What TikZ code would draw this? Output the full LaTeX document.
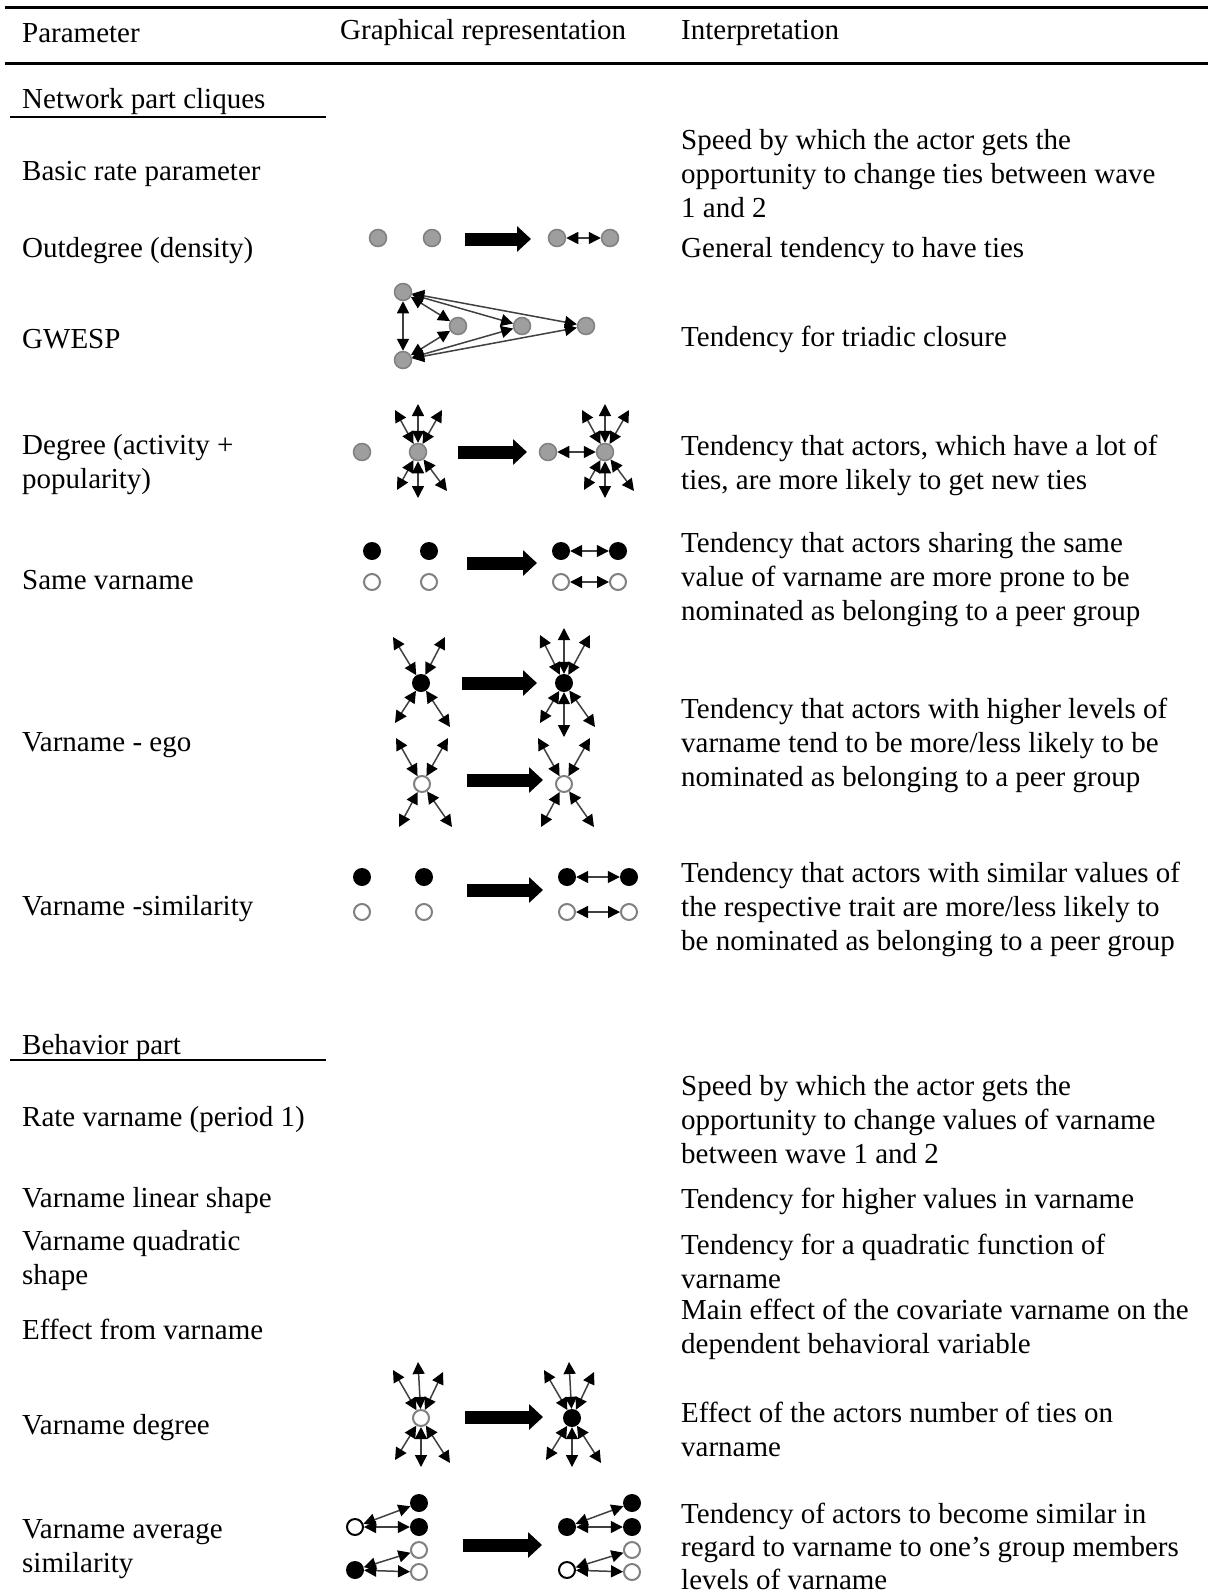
\documentclass[tikz,border=0pt]{standalone}
\usepackage{fontspec}
\setmainfont{Liberation Serif}
\usetikzlibrary{positioning,arrows.meta,calc}

\tikzset{
    txt/.style={anchor=west, align=left, inner sep=0pt, font=\fontsize{29}{34}\selectfont},
    rule/.style={line width=3pt},
    subrule/.style={line width=1.8pt},
    actor/.style={circle, inner sep=0pt, minimum size=17pt},
    grey_node/.style={actor, fill=black!38, draw=black!50, line width=1.5pt},
    black_node/.style={actor, fill=black, minimum size=18pt},
    white_node/.style={actor, fill=white, draw=black!50, line width=2pt, minimum size=16pt},
    ring_node/.style={actor, fill=white, draw=black, line width=2pt, minimum size=16pt},
    tie/.style={{Triangle[length=12pt,width=12pt,color=black]}-{Triangle[length=12pt,width=12pt,color=black]},
        draw=black!75, line width=1.5pt},
    bigarrow/.style={-{Triangle[length=14pt,width=25pt]}, line width=13pt}
}

% big change arrow between two named coordinates
\newcommand{\bigarrowat}[4]{%
    \coordinate (#1-s) at (#2,#4);
    \coordinate (#1-e) at (#3,#4);
    \draw[bigarrow] (#1-s) -- (#1-e);
}

\begin{document}
\begin{tikzpicture}[x=1pt, y=-1pt]
    \useasboundingbox (0,0) rectangle (1208,1596);

    % --- HEADER ---
    \draw[rule] (5,7) -- (1208,7);
    \node[txt] (h-par) at (22,33) {Parameter};
    \node[txt] (h-gra) at (340,33) {Graphical representation};
    \node[txt] (h-int) at (681,33) {Interpretation};
    \draw[rule] (5,63) -- (1208,63);

    % --- PARAMETER COLUMN ---
    \node[txt] (p-net) at (22,102) {Network part cliques};
    \draw[subrule] (10,117) -- (326,117);
    \node[txt] (p-rate) at (22,174) {Basic rate parameter};
    \node[txt] (p-out) at (22,251) {Outdegree (density)};
    \node[txt] (p-gwesp) at (22,339) {GWESP};
    \node[txt] (p-deg) at (22,465) {Degree (activity +\\popularity)};
    \node[txt] (p-same) at (22,580) {Same varname};
    \node[txt] (p-ego) at (22,745) {Varname - ego};
    \node[txt] (p-sim) at (22,909) {Varname -similarity};
    \node[txt] (p-beh) at (22,1048) {Behavior part};
    \draw[subrule] (10,1060) -- (326,1060);
    \node[txt] (p-brate) at (22,1120) {Rate varname (period 1)};
    \node[txt] (p-lin) at (22,1201) {Varname linear shape};
    \node[txt] (p-quad) at (22,1261) {Varname quadratic\\shape};
    \node[txt] (p-eff) at (22,1329) {Effect from varname};
    \node[txt] (p-vdeg) at (22,1428) {Varname degree};
    \node[txt] (p-avs) at (22,1549) {Varname average\\similarity};

    % --- INTERPRETATION COLUMN ---
    \node[txt] (i-rate) at (681,174) {Speed by which the actor gets the\\opportunity to change ties between wave\\1 and 2};
    \node[txt] (i-out) at (681,251) {General tendency to have ties};
    \node[txt] (i-gwesp) at (681,339) {Tendency for triadic closure};
    \node[txt] (i-deg) at (681,465) {Tendency that actors, which have a lot of\\ties, are more likely to get new ties};
    \node[txt] (i-same) at (681,580) {Tendency that actors sharing the same\\value of varname are more prone to be\\nominated as belonging to a peer group};
    \node[txt] (i-ego) at (681,745) {Tendency that actors with higher levels of\\varname tend to be more/less likely to be\\nominated as belonging to a peer group};
    \node[txt] (i-sim) at (681,909) {Tendency that actors with similar values of\\the respective trait are more/less likely to\\be nominated as belonging to a peer group};
    \node[txt] (i-brate) at (681,1120) {Speed by which the actor gets the\\opportunity to change values of varname\\between wave 1 and 2};
    \node[txt] (i-lin) at (681,1201) {Tendency for higher values in varname};
    \node[txt] (i-quad) at (681,1261) {Tendency for a quadratic function of\\varname};
    \node[txt] (i-eff) at (681,1329) {Main effect of the covariate varname on the\\dependent behavioral variable};
    \node[txt] (i-vdeg) at (681,1429) {Effect of the actors number of ties on\\varname};
    \node[txt, font=\fontsize{29}{33}\selectfont] (i-avs) at (681,1546) {Tendency of actors to become similar in\\regard to varname to one's group members\\levels of varname};

    % --- OUTDEGREE ---
    \node[grey_node] (od1) at (378,238) {};
    \node[grey_node] (od2) at (432,238) {};
    \bigarrowat{od}{465}{531}{239}
    \node[grey_node] (od3) at (557,238) {};
    \node[grey_node] (od4) at (610,238) {};
    \draw[tie] (od3) -- (od4);

    % --- GWESP ---
    \node[grey_node] (gw-t) at (403,292) {};
    \node[grey_node] (gw-b) at (403,360) {};
    \node[grey_node] (gw-1) at (458,326) {};
    \node[grey_node] (gw-2) at (522,326) {};
    \node[grey_node] (gw-3) at (586,326) {};
    \draw[tie] (gw-t) -- (gw-b);
    \foreach \m in {1,2,3} {
        \draw[tie] (gw-t) -- (gw-\m);
        \draw[tie] (gw-b) -- (gw-\m);
    }

    % --- DEGREE ---
    \node[grey_node] (dg1) at (362,452) {};
    \node[grey_node] (dg2) at (418,452) {};
    \bigarrowat{dg}{458}{527}{452}
    \node[grey_node] (dg3) at (548,452) {};
    \node[grey_node] (dg4) at (605,452) {};
    \draw[tie] (dg3) -- (dg4);
    \foreach \c in {dg2,dg4} {
        \foreach \dx/\dy in {-23/-42, 0/-48, 24/-42, -21/38, 0/46, 29/39}
            \draw[tie] (\c) -- ++(\dx,\dy);
    }

    % --- SAME VARNAME ---
    \node[black_node] (sv1) at (372,551) {};
    \node[black_node] (sv2) at (429,551) {};
    \node[white_node] (sv3) at (372,582) {};
    \node[white_node] (sv4) at (429,582) {};
    \bigarrowat{sv}{467}{537}{563}
    \node[black_node] (sv5) at (561,551) {};
    \node[black_node] (sv6) at (618,551) {};
    \node[white_node] (sv7) at (561,582) {};
    \node[white_node] (sv8) at (618,582) {};
    \draw[tie] (sv5) -- (sv6);
    \draw[tie] (sv7) -- (sv8);

    % --- VARNAME - EGO ---
    \node[black_node] (eg1) at (421,683) {};
    \node[white_node] (eg2) at (422,784) {};
    \node[black_node] (eg3) at (564,683) {};
    \node[white_node] (eg4) at (564,784) {};
    \bigarrowat{egA}{462}{537}{683}
    \bigarrowat{egB}{467}{543}{780}
    \foreach \dx/\dy in {-28/-46, 24/-46, -26/40, 29/44}
        \draw[tie] (eg1) -- ++(\dx,\dy);
    \foreach \dx/\dy in {-24/-48, 0/-55, 26/-48, -24/40, 0/54, 31/44}
        \draw[tie] (eg3) -- ++(\dx,\dy);
    \foreach \c in {eg2,eg4} {
        \foreach \dx/\dy in {-26/-46, 26/-46, -23/43, 30/43}
            \draw[tie] (\c) -- ++(\dx,\dy);
    }

    % --- VARNAME -SIMILARITY ---
    \node[black_node] (vs1) at (362,877) {};
    \node[black_node] (vs2) at (424,877) {};
    \node[white_node] (vs3) at (362,912) {};
    \node[white_node] (vs4) at (424,912) {};
    \bigarrowat{vs}{467}{543}{890}
    \node[black_node] (vs5) at (567,877) {};
    \node[black_node] (vs6) at (629,877) {};
    \node[white_node] (vs7) at (567,912) {};
    \node[white_node] (vs8) at (629,912) {};
    \draw[tie] (vs5) -- (vs6);
    \draw[tie] (vs7) -- (vs8);

    % --- VARNAME DEGREE ---
    \node[white_node] (vd1) at (421,1418) {};
    \bigarrowat{vd}{465}{543}{1417}
    \node[black_node] (vd2) at (572,1418) {};
    \foreach \c in {vd1,vd2} {
        \foreach \dx/\dy in {-28/-48, -3/-56, 22/-46, -26/42, 0/49, 29/45}
            \draw[tie] (\c) -- ++(\dx,\dy);
    }

    % --- VARNAME AVERAGE SIMILARITY ---
    \node[ring_node] (as-l1) at (355,1527) {};
    \node[black_node] (as-l2) at (355,1570) {};
    \node[black_node] (as-c1) at (419,1503) {};
    \node[black_node] (as-c2) at (419,1527) {};
    \node[white_node] (as-c3) at (419,1550) {};
    \node[white_node] (as-c4) at (419,1572) {};
    \draw[tie] (as-l1) -- (as-c1);
    \draw[tie] (as-l1) -- (as-c2);
    \draw[tie] (as-l2) -- (as-c3);
    \draw[tie] (as-l2) -- (as-c4);
    \bigarrowat{as}{463}{542}{1545}
    \node[black_node] (as-r1) at (567,1527) {};
    \node[ring_node] (as-r2) at (567,1570) {};
    \node[black_node] (as-d1) at (632,1503) {};
    \node[black_node] (as-d2) at (632,1527) {};
    \node[white_node] (as-d3) at (632,1550) {};
    \node[white_node] (as-d4) at (632,1572) {};
    \draw[tie] (as-r1) -- (as-d1);
    \draw[tie] (as-r1) -- (as-d2);
    \draw[tie] (as-r2) -- (as-d3);
    \draw[tie] (as-r2) -- (as-d4);
\end{tikzpicture}
\end{document}
